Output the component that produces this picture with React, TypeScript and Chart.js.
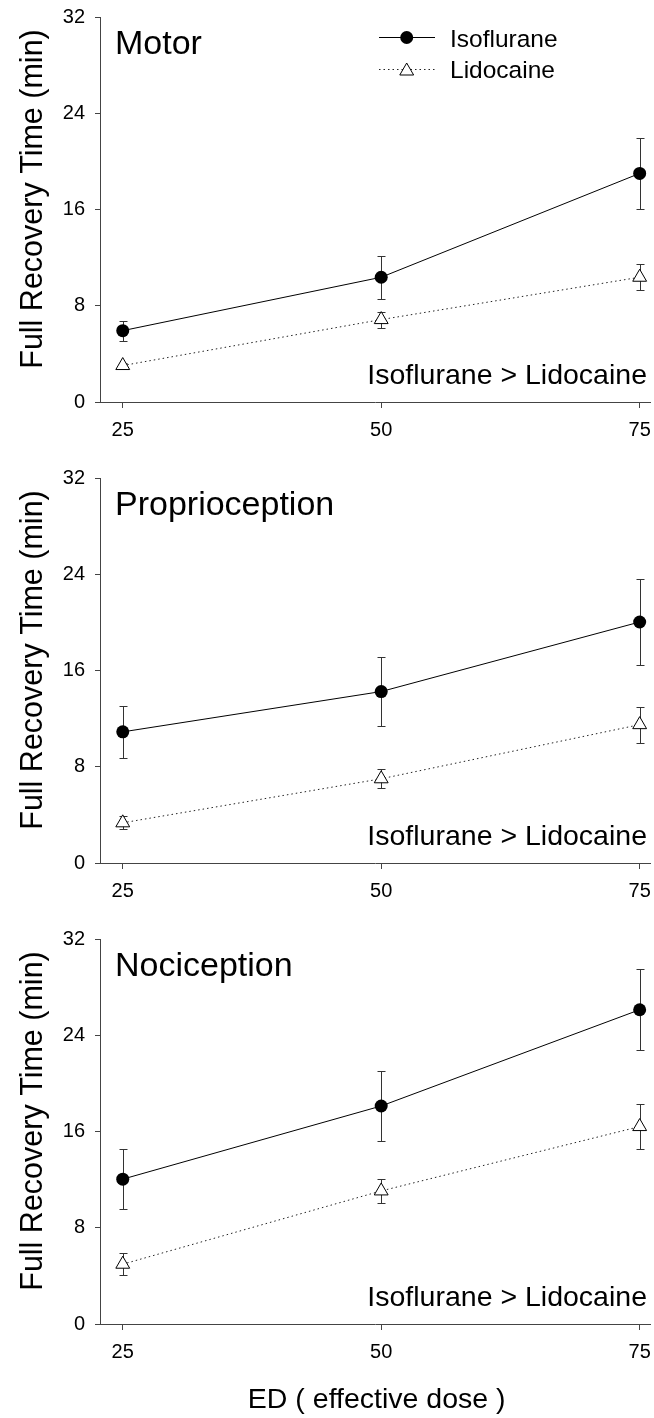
import React, { useEffect, useRef } from 'react';
import { Chart, registerables } from 'chart.js';

Chart.register(...registerables);

// ---------- data ----------
const doses = [25, 50, 75];
const xTicks = [25, 50, 75];
const yTicks = [0, 8, 16, 24, 32];
const panelTitles = ['Motor', 'Proprioception', 'Nociception'];
const seriesNames = ['Isoflurane', 'Lidocaine'];
const comparisonText = 'Isoflurane > Lidocaine';
const yAxisTitle = 'Full Recovery Time (min)';
const xAxisTitle = 'ED ( effective dose )';

const motorIso = [5.93, 10.37, 19.0];
const motorIsoErr = [0.83, 1.77, 2.96];
const motorLido = [3.03, 6.85, 10.37];
const motorLidoErr = [0.25, 0.67, 1.1];

const propIso = [10.9, 14.25, 20.03];
const propIsoErr = [2.18, 2.86, 3.57];
const propLido = [3.34, 7.0, 11.5];
const propLidoErr = [0.55, 0.8, 1.5];

const nociIso = [12.04, 18.12, 26.12];
const nociIsoErr = [2.5, 2.87, 3.38];
const nociLido = [4.97, 11.06, 16.41];
const nociLidoErr = [0.92, 0.97, 1.88];

const FONT = "'Liberation Sans', Arial, Helvetica, sans-serif";
const AXIS = '#444';
const CANVAS_W = 659;

type PanelCfg = {
  title: string;
  iso: number[];
  isoErr: number[];
  lido: number[];
  lidoErr: number[];
  legend: boolean;
  xTitle: boolean;
};

const panels: PanelCfg[] = [
  { title: panelTitles[0], iso: motorIso, isoErr: motorIsoErr, lido: motorLido, lidoErr: motorLidoErr, legend: true, xTitle: false },
  { title: panelTitles[1], iso: propIso, isoErr: propIsoErr, lido: propLido, lidoErr: propLidoErr, legend: false, xTitle: false },
  { title: panelTitles[2], iso: nociIso, isoErr: nociIsoErr, lido: nociLido, lidoErr: nociLidoErr, legend: false, xTitle: true },
];

function drawTriangle(ctx: CanvasRenderingContext2D, x: number, y: number, r: number) {
  ctx.beginPath();
  for (let k = 0; k < 3; k++) {
    const a = (k * 2 * Math.PI) / 3;
    const px = x + Math.sin(a) * r;
    const py = y - Math.cos(a) * r;
    if (k === 0) ctx.moveTo(px, py);
    else ctx.lineTo(px, py);
  }
  ctx.closePath();
  ctx.fillStyle = '#fff';
  ctx.fill();
  ctx.strokeStyle = '#000';
  ctx.lineWidth = 1;
  ctx.stroke();
}

function Panel({ cfg, top, height }: { cfg: PanelCfg; top: number; height: number }) {
  const ref = useRef<HTMLCanvasElement>(null);
  useEffect(() => {
    const errs = [cfg.isoErr, cfg.lidoErr];
    const annot = {
      id: 'annot',
      beforeDatasetsDraw(chart: any) {
        const ctx: CanvasRenderingContext2D = chart.ctx;
        const ys = chart.scales.y;
        ctx.save();
        ctx.strokeStyle = '#333';
        ctx.lineWidth = 1;
        chart.data.datasets.forEach((ds: any, i: number) => {
          const meta = chart.getDatasetMeta(i);
          meta.data.forEach((pt: any, j: number) => {
            const v = ds.data[j].y;
            const e = errs[i][j];
            const x = Math.round(pt.x) + 0.5;
            const t = Math.round(ys.getPixelForValue(v + e)) + 0.5;
            const b = Math.round(ys.getPixelForValue(v - e)) + 0.5;
            ctx.beginPath();
            ctx.moveTo(x, t);
            ctx.lineTo(x, b);
            ctx.moveTo(x - 4, t);
            ctx.lineTo(x + 4, t);
            ctx.moveTo(x - 4, b);
            ctx.lineTo(x + 4, b);
            ctx.stroke();
          });
        });
        ctx.restore();
      },
      afterDraw(chart: any) {
        const ctx: CanvasRenderingContext2D = chart.ctx;
        const area = chart.chartArea;
        ctx.save();
        ctx.fillStyle = '#000';
        // panel heading
        ctx.font = `34px ${FONT}`;
        ctx.textAlign = 'left';
        ctx.textBaseline = 'alphabetic';
        ctx.fillText(cfg.title, 115, area.top + 37);
        // comparison
        ctx.font = `28.5px ${FONT}`;
        ctx.textAlign = 'right';
        ctx.fillText(comparisonText, 647, area.bottom - 18.5);
        // y title
        ctx.save();
        ctx.translate(42, area.top + 182);
        ctx.rotate(-Math.PI / 2);
        ctx.textAlign = 'center';
        ctx.font = `30.5px ${FONT}`;
        ctx.fillText(yAxisTitle, 0, 0);
        ctx.restore();
        // legend
        if (cfg.legend) {
          ctx.strokeStyle = '#000';
          ctx.lineWidth = 1;
          ctx.beginPath();
          ctx.moveTo(379, 37.5);
          ctx.lineTo(435, 37.5);
          ctx.stroke();
          ctx.beginPath();
          ctx.arc(406.7, 37.5, 6.5, 0, Math.PI * 2);
          ctx.fillStyle = '#000';
          ctx.fill();
          ctx.save();
          ctx.setLineDash([1.5, 3]);
          ctx.strokeStyle = '#222';
          ctx.beginPath();
          ctx.moveTo(379, 69.5);
          ctx.lineTo(435, 69.5);
          ctx.stroke();
          ctx.restore();
          drawTriangle(ctx, 406.7, 71, 8);
          ctx.fillStyle = '#000';
          ctx.font = `24.5px ${FONT}`;
          ctx.textAlign = 'left';
          ctx.fillText(seriesNames[0], 450, 46.5);
          ctx.fillText(seriesNames[1], 450, 77.5);
        }
        if (cfg.xTitle) {
          ctx.font = `28.5px ${FONT}`;
          ctx.textAlign = 'center';
          ctx.fillText(xAxisTitle, 376.7, area.bottom + 84.3);
        }
        ctx.restore();
      },
    };

    const xAxisHeight = height - 402;
    const chart = new Chart(ref.current as HTMLCanvasElement, {
      type: 'line',
      data: {
        datasets: [
          {
            label: seriesNames[0],
            data: doses.map((d, i) => ({ x: d, y: cfg.iso[i] })),
            borderColor: '#000',
            borderWidth: 1,
            pointStyle: 'circle',
            pointRadius: 6.5,
            pointBackgroundColor: '#000',
            pointBorderColor: '#000',
            pointBorderWidth: 0,
            tension: 0,
            clip: false,
          } as any,
          {
            label: seriesNames[1],
            data: doses.map((d, i) => ({ x: d, y: cfg.lido[i] })),
            borderColor: '#222',
            borderWidth: 1,
            borderDash: [1.5, 3],
            pointStyle: 'triangle',
            pointRadius: 8,
            pointBackgroundColor: '#fff',
            pointBorderColor: '#000',
            pointBorderWidth: 1,
            tension: 0,
            clip: false,
          } as any,
        ],
      },
      options: {
        responsive: false,
        animation: false,
        devicePixelRatio: 1,
        events: [],
        layout: { padding: { top: 17, right: 0, left: 0, bottom: 0 } },
        plugins: { legend: { display: false }, tooltip: { enabled: false }, title: { display: false } },
        scales: {
          x: {
            type: 'linear',
            min: 22.8,
            max: 76,
            afterBuildTicks: (s: any) => {
              s.ticks = xTicks.map((v) => ({ value: v }));
            },
            afterFit: (s: any) => {
              s.height = xAxisHeight;
              s.paddingLeft = 0;
              s.paddingRight = 0;
            },
            grid: { display: true, drawOnChartArea: false, drawTicks: true, tickLength: 6, color: AXIS, lineWidth: 1 },
            border: { display: true, color: AXIS, width: 1 },
            ticks: { font: { family: FONT, size: 20 }, color: '#000', padding: 10.5, maxRotation: 0, autoSkip: false },
          },
          y: {
            type: 'linear',
            min: 0,
            max: 32,
            afterBuildTicks: (s: any) => {
              s.ticks = yTicks.map((v) => ({ value: v }));
            },
            afterFit: (s: any) => {
              s.width = 100;
              s.paddingTop = 0;
              s.paddingBottom = 0;
            },
            grid: { display: true, drawOnChartArea: false, drawTicks: true, tickLength: 5, color: AXIS, lineWidth: 1 },
            border: { display: true, color: AXIS, width: 1 },
            ticks: { font: { family: FONT, size: 20 }, color: '#000', padding: 10, autoSkip: false },
          },
        },
      } as any,
      plugins: [annot],
    });
    return () => chart.destroy();
  }, []);
  return (
    <canvas
      ref={ref}
      width={CANVAS_W}
      height={height}
      style={{ position: 'absolute', left: 0, top, width: CANVAS_W, height }}
    />
  );
}

export default function App() {
  return (
    <div style={{ position: 'absolute', left: 0, top: 0, width: 654, height: 1418, background: '#fff', overflow: 'hidden' }}>
      <Panel cfg={panels[0]} top={0} height={461} />
      <Panel cfg={panels[1]} top={461} height={461} />
      <Panel cfg={panels[2]} top={922} height={496} />
    </div>
  );
}
